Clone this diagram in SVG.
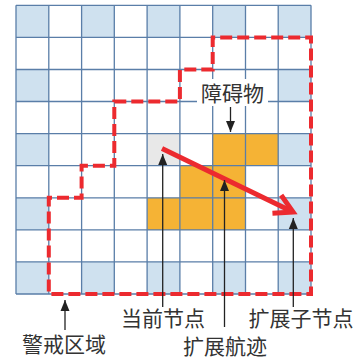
<svg xmlns="http://www.w3.org/2000/svg" width="355" height="359" viewBox="0 0 355 359">
  <style>
    .blue { fill: #cfe1ef; }
    .grid { stroke: #5a7ea8; stroke-width: 1.3; fill: none; }
    .lbl { font-family: "Noto Sans CJK SC", "Noto Sans", sans-serif; font-size: 21px; fill: #333; text-anchor: middle; }
    .ptr { stroke: #222; stroke-width: 1.3; fill: none; marker-end: url(#ah); }
    .warn { fill: none; stroke: #ec2a2f; stroke-width: 4; stroke-dasharray: 12 5; }
  </style>
  <defs>
    <marker id="ah" markerUnits="userSpaceOnUse" markerWidth="12" markerHeight="10" viewBox="-11 -5 12 10" refX="0" refY="0" orient="auto">
      <path d="M -11 -4.5 L 0 0 L -11 4.5 Z" fill="#222"/>
    </marker>
    <marker id="redhead" markerUnits="userSpaceOnUse" markerWidth="30" markerHeight="30" viewBox="-24 -15 30 30" refX="0" refY="0" orient="auto">
      <path d="M -18 -10 L 0 0 L -18 10" fill="none" stroke="#ec2a2f" stroke-width="5"/>
    </marker>
  </defs>
  <rect x="0" y="0" width="355" height="359" fill="#ffffff"/>

  <g id="grid-fills">
    <rect class="blue" x="16" y="5.3" width="32.8" height="32.1"/>
    <rect class="blue" x="81.6" y="5.3" width="32.8" height="32.1"/>
    <rect class="blue" x="147.1" y="5.3" width="32.8" height="32.1"/>
    <rect class="blue" x="212.7" y="5.3" width="32.8" height="32.1"/>
    <rect class="blue" x="278.2" y="5.3" width="32.8" height="32.1"/>
    <rect class="blue" x="16" y="69.5" width="32.8" height="32.1"/>
    <rect class="blue" x="278.2" y="69.5" width="32.8" height="32.1"/>
    <rect class="blue" x="16" y="133.6" width="32.8" height="32.1"/>
    <rect class="blue" x="278.2" y="133.6" width="32.8" height="32.1"/>
    <rect class="blue" x="16" y="197.8" width="32.8" height="32.1"/>
    <rect class="blue" x="278.2" y="197.8" width="32.8" height="32.1"/>
    <rect class="blue" x="16" y="261.9" width="32.8" height="32.1"/>
    <rect class="blue" x="81.6" y="261.9" width="32.8" height="32.1"/>
    <rect class="blue" x="147.1" y="261.9" width="32.8" height="32.1"/>
    <rect class="blue" x="212.7" y="261.9" width="32.8" height="32.1"/>
    <rect class="blue" x="278.2" y="261.9" width="32.8" height="32.1"/>
  </g>

  <g id="current-node">
    <rect x="147.1" y="133.6" width="32.8" height="32.1" fill="#e8e8e8"/>
  </g>

  <g id="obstacle">
    <polygon points="212.7,133.6 278.2,133.6 278.2,165.7 245.5,165.7 245.5,229.9 147.1,229.9 147.1,197.8 179.9,197.8 179.9,165.7 212.7,165.7" fill="#f5b335"/>
  </g>

  <g id="grid-lines" class="grid">
    <path d="M16 5.3V294 M48.8 5.3V294 M81.6 5.3V294 M114.3 5.3V294 M147.1 5.3V294 M179.9 5.3V294 M212.7 5.3V294 M245.5 5.3V294 M278.2 5.3V294 M311 5.3V294"/>
    <path d="M16 5.3H311 M16 37.4H311 M16 69.5H311 M16 101.5H311 M16 133.6H311 M16 165.7H311 M16 197.8H311 M16 229.9H311 M16 261.9H311 M16 294H311"/>
  </g>

  <g id="warning-area">
    <polygon class="warn" points="114.3,101.5 179.9,101.5 179.9,69.5 212.7,69.5 212.7,37.4 311,37.4 311,294 48.8,294 48.8,197.8 81.6,197.8 81.6,165.7 114.3,165.7"/>
  </g>

  <g id="expansion-track">
    <line x1="162" y1="148.5" x2="293" y2="212" stroke="#ec2a2f" stroke-width="5" marker-end="url(#redhead)"/>
  </g>

  <g id="connectors">
    <line class="ptr" x1="230.5" y1="107" x2="230.5" y2="132"/>
    <line class="ptr" x1="162.7" y1="307" x2="162.7" y2="154"/>
    <line class="ptr" x1="65" y1="330" x2="65" y2="300"/>
    <line class="ptr" x1="224.5" y1="327" x2="224.5" y2="180"/>
    <line class="ptr" x1="293.3" y1="307" x2="293.3" y2="218"/>
  </g>

  <g id="label-obstacle">
    <rect x="197" y="79" width="71" height="27" fill="#ffffff"/>
    <text class="lbl" x="232.5" y="100.5">障碍物</text>
  </g>
  <g id="label-current">
    <text class="lbl" x="163" y="325.5">当前节点</text>
  </g>
  <g id="label-warning">
    <text class="lbl" x="64" y="351.5">警戒区域</text>
  </g>
  <g id="label-track">
    <text class="lbl" x="225" y="353.5">扩展航迹</text>
  </g>
  <g id="label-child">
    <text class="lbl" x="301" y="325.5">扩展子节点</text>
  </g>
</svg>
